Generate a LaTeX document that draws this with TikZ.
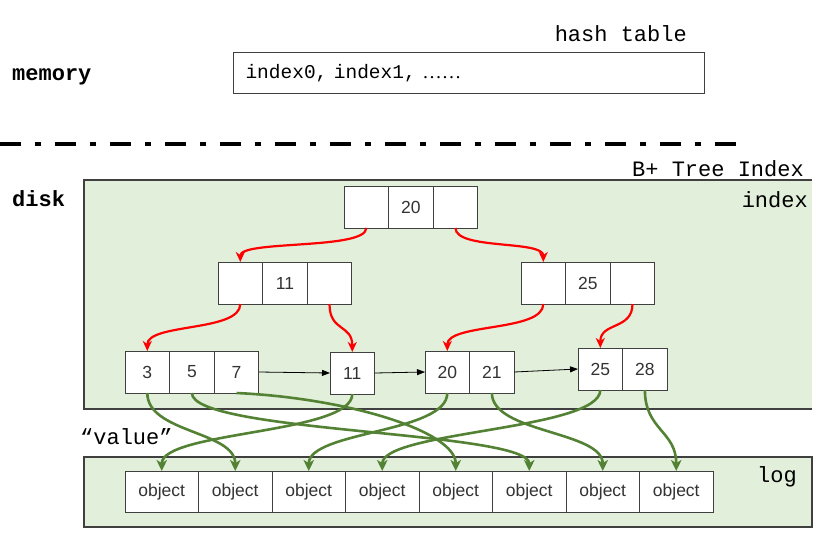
\documentclass[tikz,border=0pt]{standalone}
\usepackage{fontspec}
\setmainfont{Liberation Serif}
\setsansfont{Liberation Sans}
\setmonofont{Liberation Mono}
\usetikzlibrary{arrows.meta,positioning}

\definecolor{diskgreen}{RGB}{226,239,218}
\definecolor{ptrgreen}{RGB}{84,130,53}
\definecolor{edgegray}{RGB}{64,64,64}

\begin{document}
\begin{tikzpicture}[
  x=1pt, y=-1pt,
  node distance=0pt,
  tag/.style={inner sep=0pt, font=\fontsize{22}{24}\selectfont\ttfamily},
  cell/.style={rectangle, draw=edgegray, fill=white, line width=1pt, minimum width=44.6pt, minimum height=42pt, inner sep=0pt, outer sep=0pt, font=\fontsize{17.5}{20}\selectfont\sffamily, text=black!80},
  objcell/.style={cell, minimum width=73.5pt, minimum height=41.5pt},
  region/.style={rectangle, fill=diskgreen, inner sep=0pt, outer sep=0pt},
  regionedge/.style={draw=edgegray, line width=1.6pt},
  childarrow/.style={-{Stealth[length=10pt, width=9pt, inset=3pt]}, red, line width=2.2pt},
  valarrow/.style={-{Stealth[length=11pt, width=10.5pt, inset=3pt]}, ptrgreen, line width=2.6pt},
  siblingarrow/.style={-{Triangle[length=8pt, width=6pt]}, line width=0.8pt}
]
\useasboundingbox (0,0) rectangle (831,549);

%% Memory
\node[tag, font=\fontsize{22}{24}\selectfont\ttfamily\bfseries, anchor=base west] (memlabel) at (12,80) {memory};
\node[anchor=north west, draw=edgegray, line width=1pt, minimum width=471pt, minimum height=41pt, text width=447pt, inner xsep=12pt, inner ysep=0pt, align=left, font=\fontsize{19.5}{22}\selectfont\ttfamily] (hashbox) at (233,52) {index0, index1, {\rmfamily ……}};
\node[tag, above left=10pt and 18pt of hashbox.north east] (hashlabel) {hash table};

%% Separator
\coordinate (sepL) at (0,144);
\coordinate (sepR) at (740,144);
\draw[line width=4.5pt, dash pattern=on 21pt off 14pt on 6pt off 14pt] (sepL) -- (sepR);

%% Disk
\node[region, anchor=north west, minimum width=728pt, minimum height=229pt] (disk) at (84,180) {};
\draw[regionedge] (disk.north east) -- (disk.north west) -- (disk.south west) -- (disk.south east);
\node[tag, font=\fontsize{22}{24}\selectfont\ttfamily\bfseries, anchor=base west] (disklabel) at (12,206) {disk};
\node[tag, above left=3pt and 8pt of disk.north east] (treelabel) {B+ Tree Index};
\node[tag, below left=11pt and 4pt of disk.north east] (indexlabel) {index};

%% Log
\node[region, regionedge, anchor=north west, minimum width=728pt, minimum height=70pt] (log) at (84,457) {};
\node[tag, below left=9pt and 15pt of log.north east] (loglabel) {log};
\node[tag, anchor=base west] (vallabel) at (80,444) {“value”};

%% Root
\node[cell, anchor=north west] (r1) at (344,186) {};
\node[cell, right=of r1] (r2) {20};
\node[cell, right=of r2] (r3) {};

%% Inner level
\node[cell, anchor=north west] (a1) at (218,262) {};
\node[cell, right=of a1] (a2) {11};
\node[cell, right=of a2] (a3) {};
\node[cell, anchor=north west] (b1) at (521,262) {};
\node[cell, right=of b1] (b2) {25};
\node[cell, right=of b2] (b3) {};

%% Leaves
\node[cell, anchor=north west] (l3) at (125,351) {3};
\node[cell, right=of l3] (l5) {5};
\node[cell, right=of l5] (l7) {7};
\node[cell, anchor=north west] (l11) at (330,352) {11};
\node[cell, anchor=north west] (l20) at (425,351) {20};
\node[cell, right=of l20] (l21) {21};
\node[cell, anchor=north west] (l25) at (578,348) {25};
\node[cell, right=of l25] (l28) {28};

%% Objects
\node[objcell, anchor=north west] (o1) at (125,471) {object};
\node[objcell, right=of o1] (o2) {object};
\node[objcell, right=of o2] (o3) {object};
\node[objcell, right=of o3] (o4) {object};
\node[objcell, right=of o4] (o5) {object};
\node[objcell, right=of o5] (o6) {object};
\node[objcell, right=of o6] (o7) {object};
\node[objcell, right=of o7] (o8) {object};

%% Child pointers
\draw[childarrow] (r1.south) .. controls +(0,22) and +(0,-22) .. (a1.north);
\draw[childarrow] (r3.south) .. controls +(0,22) and +(0,-22) .. (b1.north);
\draw[childarrow] (a1.south) .. controls +(0,28) and +(0,-28) .. (l3.north);
\draw[childarrow] (a3.south) .. controls +(0,28) and +(0,-28) .. (l11.north);
\draw[childarrow] (b1.south) .. controls +(0,28) and +(0,-28) .. (l20.north);
\draw[childarrow] (b3.south) .. controls +(0,26) and +(0,-26) .. (l25.north);

%% Leaf links
\draw[siblingarrow] (l7.east) -- (l11.west);
\draw[siblingarrow] (l11.east) -- (l20.west);
\draw[siblingarrow] (l21.east) -- (l25.west);

%% Values
\draw[valarrow] (l3.south) .. controls +(0,40) and +(0,-40) .. (o2.north);
\draw[valarrow] (l5.south) .. controls +(0,40) and +(0,-40) .. (o6.north);
\draw[valarrow] (l7.south) .. controls +(110,5) and +(0,-40) .. (o5.north);
\draw[valarrow] (l11.south) .. controls +(0,40) and +(0,-40) .. (o1.north);
\draw[valarrow] (l20.south) .. controls +(0,40) and +(0,-40) .. (o3.north);
\draw[valarrow] (l21.south) .. controls +(0,40) and +(0,-40) .. (o7.north);
\draw[valarrow] (l25.south) .. controls +(0,40) and +(0,-40) .. (o4.north);
\draw[valarrow] (l28.south) .. controls +(0,40) and +(0,-40) .. (o8.north);
\end{tikzpicture}
\end{document}
